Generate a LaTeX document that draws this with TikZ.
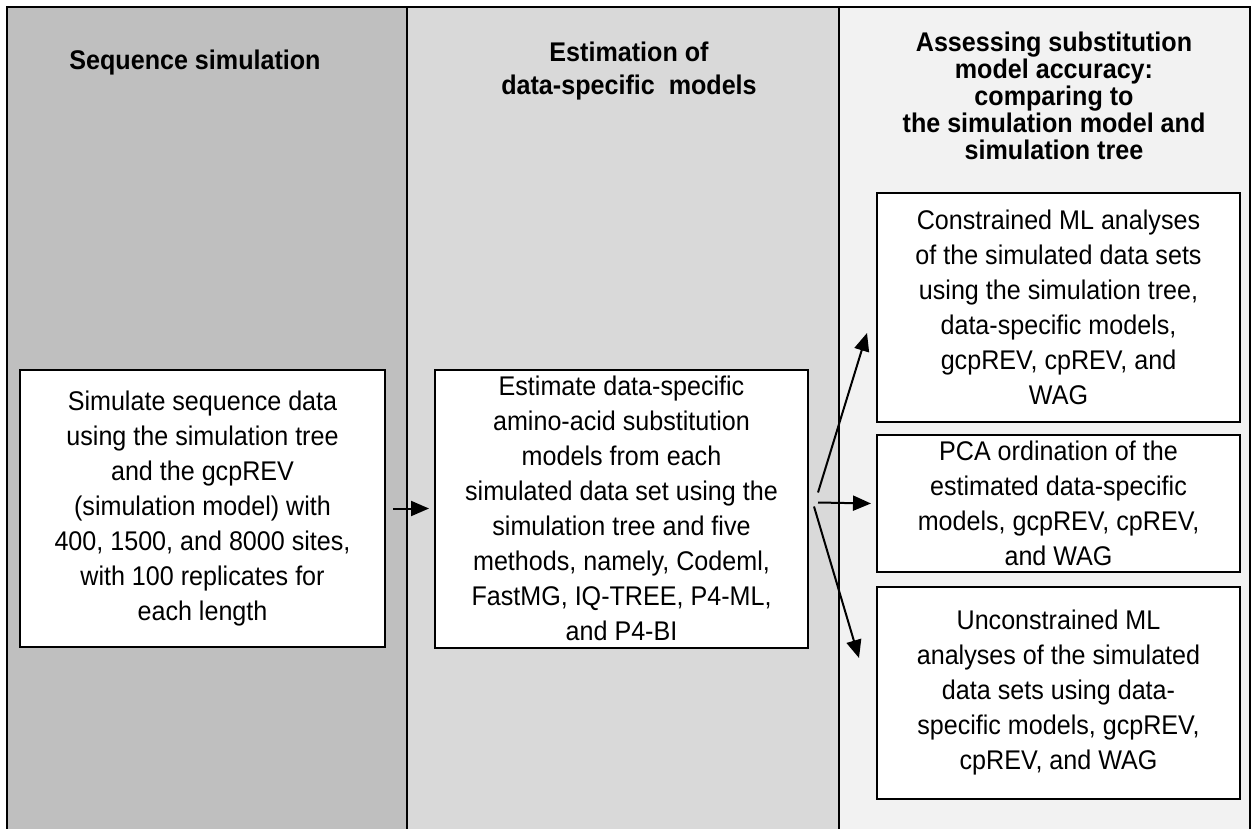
\documentclass[tikz,border=0pt]{standalone}
\usepackage{fontspec}
\setmainfont[FakeStretch=0.93]{Liberation Sans}
\usetikzlibrary{arrows.meta}
\definecolor{simgray}{RGB}{191,191,191}
\definecolor{estgray}{RGB}{217,217,217}
\definecolor{assgray}{RGB}{242,242,242}

\begin{document}
\begin{tikzpicture}[
			     x=1pt, y=-1pt,
			     >={Triangle[length=18pt,width=15pt]},
			     panel line/.style={line width=1.5pt},
			     procbox/.style={draw, line width=2pt, fill=white, align=center, inner sep=0pt, font=\fontsize{27}{35}\selectfont},
			     headtext/.style={align=center, font=\bfseries\fontsize{27}{27}\selectfont},
			     flow line/.style={->, line width=2pt}
			     ]
\useasboundingbox (0,0) rectangle (1253,829);
% the three columns
\fill[simgray] (7,7) rectangle (407,829);
\fill[estgray] (407,7) rectangle (839,829);
\fill[assgray] (839,7) rectangle (1250,829);
\draw[line width=2pt] (7,829) -- (7,7) -- (1250,7) -- (1250,829);
\draw[panel line] (407,7) -- (407,829);
\draw[panel line] (839,7) -- (839,829);

\node[headtext] (seqhead) at (195,63) {Sequence simulation};
\node[headtext, font=\bfseries\fontsize{27}{33}\selectfont] (esthead) at (629,71) {Estimation of\\data-specific~~models};
\node[headtext] (asshead) at (1054,96) {Assessing substitution\\model accuracy:\\comparing to\\the simulation model and\\simulation tree};

\node[procbox, minimum width=365pt, minimum height=277pt] (simbox) at (202.5,508.5) {Simulate sequence data\\using the simulation tree\\and the gcpREV\\(simulation model) with\\400, 1500, and 8000 sites,\\with 100 replicates for\\each length};
\node[procbox, minimum width=373pt, minimum height=278pt] (estbox) at (621.5,508.5) {Estimate data-specific\\amino-acid substitution\\models from each\\simulated data set using the\\simulation tree and five\\methods, namely, Codeml,\\FastMG, IQ-TREE, P4-ML,\\and P4-BI};
\node[procbox, minimum width=363pt, minimum height=229pt] (conbox) at (1058.5,307.5) {Constrained ML analyses\\of the simulated data sets\\using the simulation tree,\\data-specific models,\\gcpREV, cpREV, and\\WAG};
\node[procbox, minimum width=363pt, minimum height=137pt] (pcabox) at (1058.5,503.5) {PCA ordination of the\\estimated data-specific\\models, gcpREV, cpREV,\\and WAG};
\node[procbox, minimum width=363pt, minimum height=212pt] (uncbox) at (1058.5,693) {Unconstrained ML\\analyses of the simulated\\data sets using data-\\specific models, gcpREV,\\cpREV, and WAG};

% fan of arrows
\coordinate (fanup) at ([shift={(9,-16)}]estbox.east);
\coordinate (fanmid) at ([shift={(9,-6)}]estbox.east);
\coordinate (fanlow) at ([shift={(5,-2)}]estbox.east);
\coordinate (upend) at ([shift={(-9,25.5)}]conbox.west);
\coordinate (midend) at ([shift={(-5,0)}]pcabox.west);
\coordinate (lowend) at ([shift={(-17,-35)}]uncbox.west);

\path (simbox) edge[flow line, shorten <=7pt, shorten >=5pt] (estbox);
\draw[flow line] (fanup) -- (upend);
\draw[flow line] (fanmid) -- (midend);
\draw[flow line] (fanlow) -- (lowend);
\end{tikzpicture}
\end{document}
